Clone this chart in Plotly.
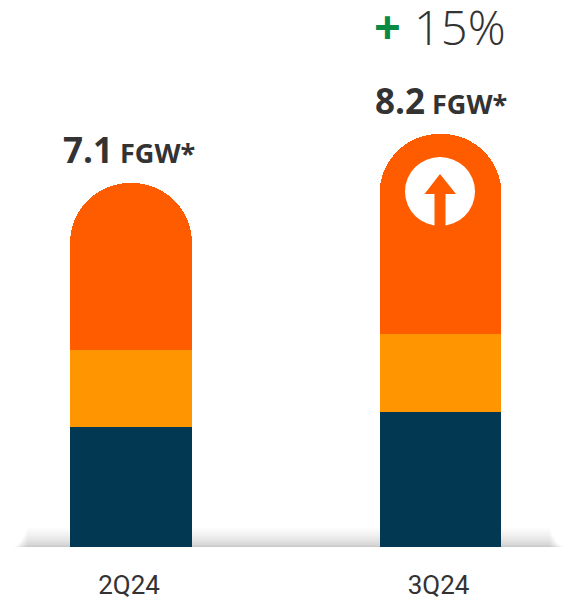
import plotly.graph_objects as go

quarters = ["2Q24", "3Q24"]
navy_values = [2.37, 2.66]
amber_values = [1.52, 1.54]
orange_values = [3.29, 3.95]
total_labels = ["7.1", "8.2"]
unit_label = "FGW*"
growth_label = "15%"

W, H = 577, 601
BASE_Y = 547
PX_PER_UNIT = 50.7

def px(x):
    return x / W

def py(y):
    return 1 - y / BASE_Y

fig = go.Figure()
for name, vals, col in [("Navy", navy_values, "#023852"),
                        ("Amber", amber_values, "#FF9500"),
                        ("Orange", orange_values, "#FF5C00")]:
    fig.add_trace(go.Bar(x=quarters, y=vals, name=name, marker=dict(color=col, line=dict(width=0)),
                         showlegend=False, hoverinfo="y"))

shapes = []
# soft shadow above the baseline
for i in range(18):
    t = (i + 1) / 18
    shapes.append(dict(type="rect", xref="paper", yref="paper", layer="below",
                       x0=px(14 + 14 * (1 - t)), x1=px(563 - 14 * (1 - t)),
                       y0=py(BASE_Y), y1=py(BASE_Y - 20 * (1 - t) ** 1.7 - 1),
                       fillcolor="rgba(90,90,90,0.018)", line=dict(width=0)))
# icon on the 3Q24 bar
shapes.append(dict(type="circle", xref="paper", yref="paper", layer="above",
                   x0=px(405), x1=px(475), y0=py(157), y1=py(226),
                   fillcolor="#FFFFFF", line=dict(width=0)))
arrow = [(440, 174), (456, 194), (445.5, 194), (445.5, 228), (434.5, 228), (434.5, 194), (424.5, 194)]
path = "M " + " L ".join(f"{px(x):.5f} {py(y):.5f}" for x, y in arrow) + " Z"
shapes.append(dict(type="path", xref="paper", yref="paper", layer="above", path=path,
                   fillcolor="#FF5C00", line=dict(width=0)))

annotations = []
totals = [sum(v) for v in zip(navy_values, amber_values, orange_values)]
for q, t, lab, xs in zip(quarters, totals, total_labels, (-2, 0)):
    annotations.append(dict(x=q, y=t, xref="x", yref="y", yanchor="bottom", xanchor="center",
                            yshift=8, xshift=xs, showarrow=False,
                            text=f"<b><span style='font-size:35px'>{lab}</span> "
                                 f"<span style='font-size:27px'>{unit_label}</span></b>",
                            font=dict(family="Open Sans", color="#333333", size=27)))
annotations.append(dict(x=px(412), y=py(27), xref="paper", yref="paper", xanchor="left", yanchor="middle",
                        showarrow=False, text=growth_label,
                        font=dict(family="Open Sans", color="#333333", size=47, weight=300)))
annotations.append(dict(x=px(387), y=py(26), xref="paper", yref="paper", xanchor="center", yanchor="middle",
                        showarrow=False, text="<b>+</b>",
                        font=dict(family="Open Sans", color="#0A8A43", size=47)))

fig.update_layout(
    width=W, height=H, barmode="stack", bargap=0.606, barcornerradius=61,
    margin=dict(l=0, r=0, t=0, b=H - BASE_Y, pad=0), autosize=False,
    paper_bgcolor="#FFFFFF", plot_bgcolor="rgba(0,0,0,0)",
    shapes=shapes, annotations=annotations,
    xaxis=dict(type="category", range=[-131 / 309.5, (W - 131) / 309.5], showgrid=False, zeroline=False,
               showline=False, ticks="outside", ticklen=15, tickcolor="rgba(0,0,0,0)",
               ticklabelshift=-2,
               tickfont=dict(family="Roboto", size=26, color="#333333")),
    yaxis=dict(range=[0, BASE_Y / PX_PER_UNIT], visible=False),
)
fig.write_html("out.html", config={"displayModeBar": False},
               post_script="document.body.style.margin='0';")
